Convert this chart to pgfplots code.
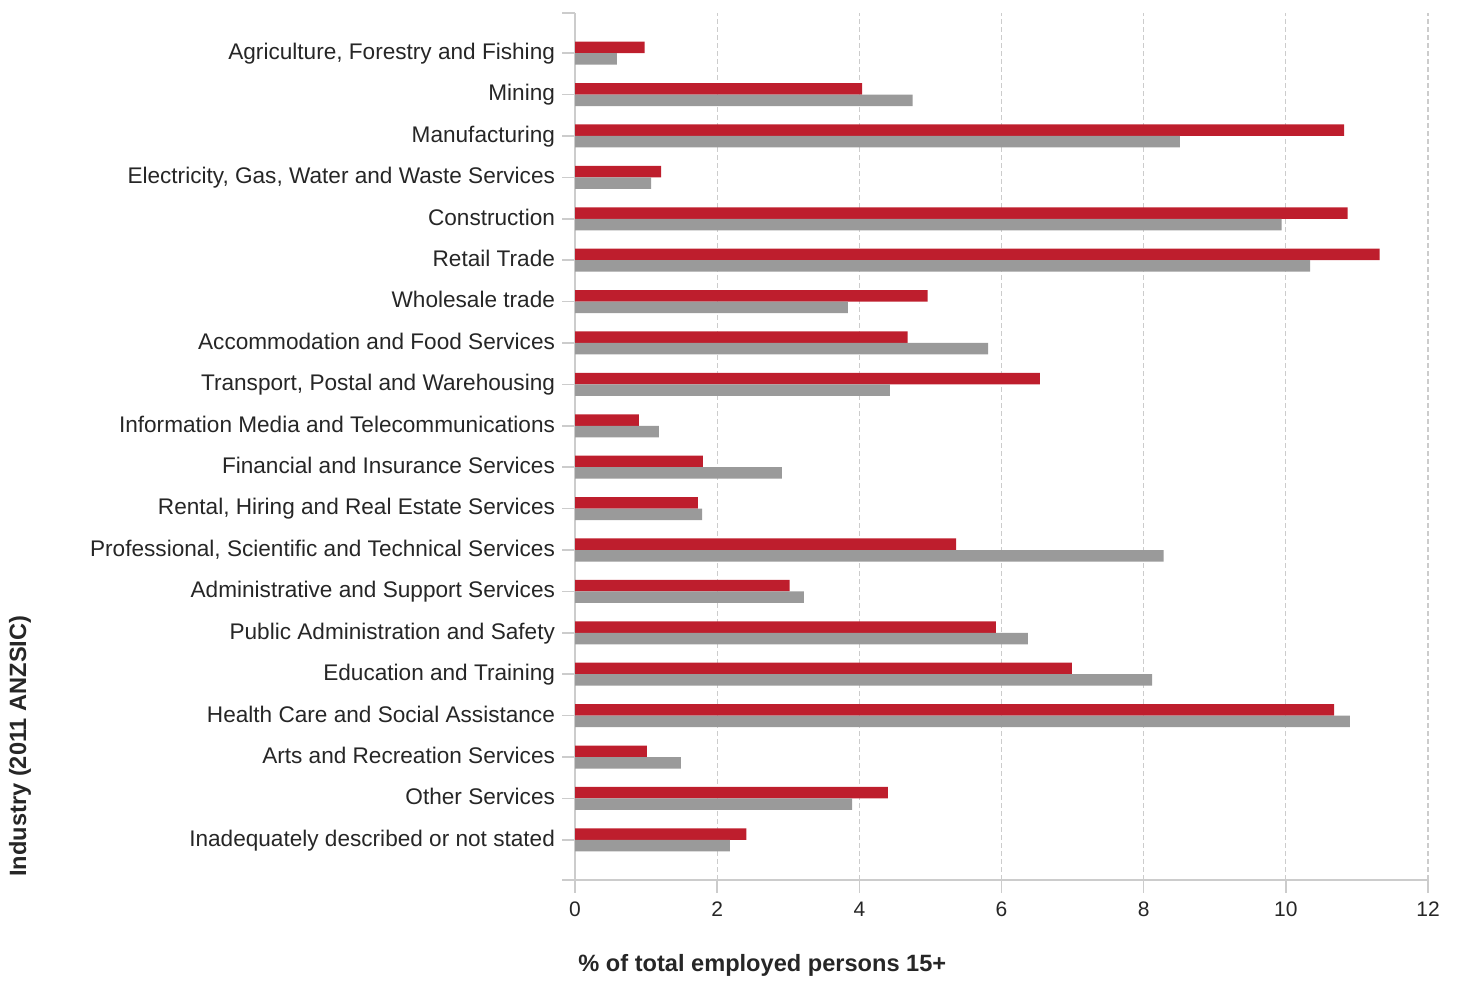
\documentclass[border=0pt]{standalone}
\usepackage{pgfplots}
\pgfplotsset{compat=1.18}
\usepackage{fontspec}
\setmainfont{Liberation Sans}
\definecolor{barred}{HTML}{BE1E2D}
\definecolor{bargray}{HTML}{9A9A9A}
\definecolor{axgray}{HTML}{CCCCCC}
\definecolor{txt}{HTML}{262626}
\begin{document}
\begin{tikzpicture}
\path[use as bounding box] (0,0) rectangle (729.5pt,491.5pt);
\begin{axis}[
  at={(287.5pt,51.5pt)}, anchor=south west,
  scale only axis, width=426.5pt, height=433.5pt,
  xbar, bar width=5.75pt,
  xmin=0, xmax=12, ymin=-0.97, ymax=19.97,
  xtick={0,2,...,12},
  ytick={0,...,19},
  yticklabels={Inadequately described or not stated, Other Services, Arts and Recreation Services, Health Care and Social Assistance, Education and Training, Public Administration and Safety, Administrative and Support Services, {Professional, Scientific and Technical Services}, {Rental, Hiring and Real Estate Services}, Financial and Insurance Services, Information Media and Telecommunications, {Transport, Postal and Warehousing}, Accommodation and Food Services, Wholesale trade, Retail Trade, Construction, {Electricity, Gas, Water and Waste Services}, Manufacturing, Mining, {Agriculture, Forestry and Fishing}},
  extra y ticks={-0.97,19.97}, extra y tick labels={},
  axis lines*=left,
  axis line style={axgray, line width=0.75pt},
  tick style={axgray, line width=0.75pt},
  tick align=outside, major tick length=6.5pt,
  xmajorgrids, grid style={axgray, dash pattern=on 2.5pt off 1.5pt, line width=0.6pt},
  typeset ticklabels with strut,
  yticklabel style={font=\fontsize{11.3}{13}\selectfont, text=txt, yshift=-0.6pt},
  xticklabel style={font=\fontsize{10.5}{12}\selectfont, text=txt},
  /pgf/number format/assume math mode=true,
]
\addplot[fill=barred, draw=none, bar shift=2.875pt] coordinates {
(2.41,0) (4.40,1) (1.01,2) (10.68,3) (6.99,4) (5.92,5) (3.02,6) (5.36,7) (1.73,8) (1.80,9)
(0.90,10) (6.54,11) (4.68,12) (4.96,13) (11.32,14) (10.87,15) (1.21,16) (10.82,17) (4.04,18) (0.98,19)};
\addplot[fill=bargray, draw=none, bar shift=-2.875pt] coordinates {
(2.18,0) (3.90,1) (1.49,2) (10.90,3) (8.12,4) (6.37,5) (3.22,6) (8.28,7) (1.79,8) (2.91,9)
(1.18,10) (4.43,11) (5.81,12) (3.84,13) (10.34,14) (9.94,15) (1.07,16) (8.51,17) (4.75,18) (0.59,19)};
\end{axis}
\node[anchor=west, font=\bfseries\fontsize{11.8}{14}\selectfont, text=txt, inner sep=0pt] at (289pt,9pt) {\% of total employed persons 15+};
\node[rotate=90, anchor=west, font=\bfseries\fontsize{11.8}{14}\selectfont, text=txt, inner sep=0pt] at (10pt,53pt) {Industry (2011 ANZSIC)};
\end{tikzpicture}
\end{document}
